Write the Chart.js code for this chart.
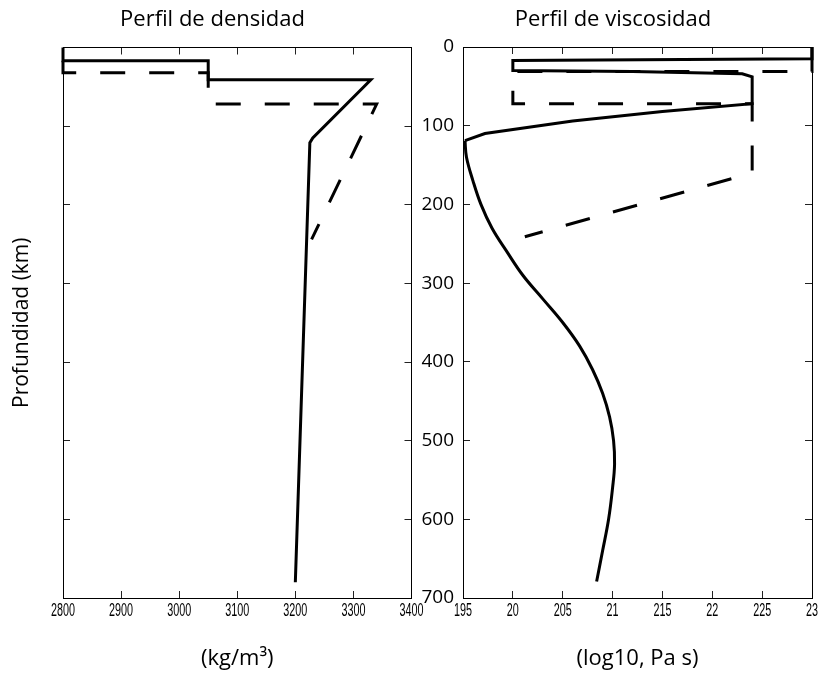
<!DOCTYPE html>
<html>
<head>
<meta charset="utf-8">
<title>Perfiles de densidad y viscosidad</title>
<script src="https://cdn.jsdelivr.net/npm/chart.js@4.4.1/dist/chart.umd.min.js"></script>
<style>
  html, body { margin: 0; padding: 0; background: #fff; }
  #wrap { position: relative; width: 819px; height: 679px; overflow: hidden; }
  #densidad { position: absolute; left: 0; top: 0; }
  #viscosidad { position: absolute; left: 407px; top: 0; }
</style>
</head>
<body>
<div id="wrap">
  <canvas id="densidad" width="440" height="679"></canvas>
  <canvas id="viscosidad" width="412" height="679"></canvas>
</div>
<script>
// depth (km) and value pairs for each profile
const densSolidDepth = [0, 17, 17, 41, 41, 115, 121, 680];
const densSolidVal = [2800, 2800, 3050, 3050, 3330, 3230, 3225, 3200];
const densDashDepth = [17, 32, 32, 72, 72, 244];
const densDashVal = [2800, 2800, 3050, 3050, 3340, 3228];

const viscSolidDepth = [0, 15, 17, 30, 31, 34, 38, 72, 82, 94, 110, 119];
const viscSolidVal = [23, 23, 20, 20, 21.2, 22.3, 22.4, 22.4, 21.5, 20.6, 19.72, 19.52];
const viscCurveDepth = [119, 140, 170, 200, 230, 260, 290, 320, 350, 380, 410, 440, 470, 500, 530, 560, 600, 640, 679];
const viscCurveVal = [19.52, 19.535, 19.6, 19.68, 19.79, 19.94, 20.1, 20.3, 20.5, 20.67, 20.8, 20.9, 20.97, 21.01, 21.02, 21.0, 20.96, 20.9, 20.84];
const viscDashDepth = [0, 31, 31, 72, 72, 160, 241];
const viscDashVal = [23, 23, 20, 20, 22.4, 22.4, 20.12];

const densTicks = [2800, 2900, 3000, 3100, 3200, 3300, 3400];
const viscTicks = [19.5, 20, 20.5, 21, 21.5, 22, 22.5, 23];
const viscTickLabels = ['195', '20', '205', '21', '215', '22', '225', '23'];
const depthTicks = [0, 100, 200, 300, 400, 500, 600, 700];

Chart.defaults.font.family = "'Open Sans', sans-serif";
Chart.defaults.color = '#000';
Chart.defaults.animation = false;

const pts = (depth, vals) => depth.map((d, i) => ({ x: vals[i], y: d }));

// force a scale box to a fixed thickness and drop the label overflow padding
function fixSize(prop, px) {
  return function (scale) {
    scale[prop] = px;
    scale.paddingLeft = scale.paddingRight = scale.paddingTop = scale.paddingBottom = 0;
  };
}
function setTicks(values) {
  return function (scale) {
    scale.ticks = values.map((v) => ({ value: v }));
  };
}

// x tick labels in a squeezed, condensed style under each bottom tick
function squeezedLabels(format) {
  return {
    id: 'squeezedLabels',
    afterDraw(chart) {
      const scale = chart.scales.x;
      const ctx = chart.ctx;
      ctx.save();
      ctx.font = "18px 'Liberation Sans', Arial, sans-serif";
      ctx.fillStyle = '#000';
      ctx.textAlign = 'center';
      ctx.textBaseline = 'alphabetic';
      scale.ticks.forEach((t) => {
        ctx.save();
        ctx.translate(scale.getPixelForValue(t.value), scale.top + 17.5);
        ctx.scale(0.6, 1);
        ctx.fillText(format(t.value), 0, 0);
        ctx.restore();
      });
      ctx.restore();
    },
  };
}

// tick marks pointing into the plot, box border on every side
const inner = { drawOnChartArea: false, tickLength: -7, color: '#222', lineWidth: 1 };
const frame = { display: true, color: '#000', width: 1 };

function line(data, dashed, tension) {
  return {
    data: data,
    showLine: true,
    borderColor: '#000',
    borderWidth: 3,
    borderDash: dashed ? [25, 24] : [],
    pointRadius: 0,
    tension: tension || 0,
    clip: false,
  };
}

function makeChart(id, cfg) {
  return new Chart(document.getElementById(id), {
    type: 'scatter',
    data: { datasets: cfg.datasets },
    plugins: [squeezedLabels(cfg.xLabel)],
    options: {
      responsive: false,
      layout: { padding: { right: cfg.padRight } },
      plugins: {
        legend: { display: false },
        tooltip: { enabled: false },
        title: {
          display: true,
          text: cfg.title,
          font: { size: 22, weight: 'normal' },
          padding: { top: 7, bottom: cfg.titleGap },
        },
      },
      scales: {
        x: {
          position: 'bottom',
          min: cfg.xMin,
          max: cfg.xMax,
          afterBuildTicks: setTicks(cfg.xTicks),
          afterFit: fixSize('height', 81),
          grid: inner,
          border: frame,
          ticks: { display: false },
          title: { display: true, text: cfg.xTitle, font: { size: 22 }, padding: { bottom: 7 } },
        },
        x2: {
          position: 'top',
          min: cfg.xMin,
          max: cfg.xMax,
          afterBuildTicks: setTicks(cfg.xTicks),
          afterFit: fixSize('height', 0),
          grid: inner,
          border: frame,
          ticks: { display: false },
        },
        y: {
          position: 'left',
          reverse: true,
          min: 0,
          max: 700,
          afterBuildTicks: setTicks(depthTicks),
          afterFit: fixSize('width', cfg.yWidth),
          grid: inner,
          border: frame,
          ticks: { display: cfg.yLabels, font: { size: 19 }, padding: 16, callback: (v) => String(v) },
          title: { display: !!cfg.yTitle, text: cfg.yTitle || '', font: { size: 21 }, padding: { top: 9.5 } },
        },
        y2: {
          position: 'right',
          reverse: true,
          min: 0,
          max: 700,
          afterBuildTicks: setTicks(depthTicks),
          afterFit: fixSize('width', cfg.y2Width),
          grid: inner,
          border: frame,
          ticks: { display: false },
        },
      },
    },
  });
}

makeChart('densidad', {
  title: 'Perfil de densidad',
  titleGap: 14.1,
  padRight: 15,
  xMin: 2800,
  xMax: 3400,
  xTicks: densTicks,
  xLabel: (v) => String(v),
  xTitle: '(kg/m³)',
  yWidth: 63,
  y2Width: 13.5,
  yLabels: false,
  yTitle: 'Profundidad (km)',
  datasets: [
    line(pts(densSolidDepth, densSolidVal), false),
    line(pts(densDashDepth, densDashVal), true),
  ],
});

makeChart('viscosidad', {
  title: 'Perfil de viscosidad',
  titleGap: 13.6,
  padRight: 0,
  xMin: 19.5,
  xMax: 23,
  xTicks: viscTicks,
  xLabel: (v) => viscTickLabels[viscTicks.indexOf(v)],
  xTitle: '(log10, Pa s)',
  yWidth: 56,
  y2Width: 7,
  yLabels: true,
  datasets: [
    line(pts(viscSolidDepth, viscSolidVal), false),
    line(pts(viscCurveDepth, viscCurveVal), false, 0.4),
    line(pts(viscDashDepth, viscDashVal), true),
  ],
});
</script>
</body>
</html>
